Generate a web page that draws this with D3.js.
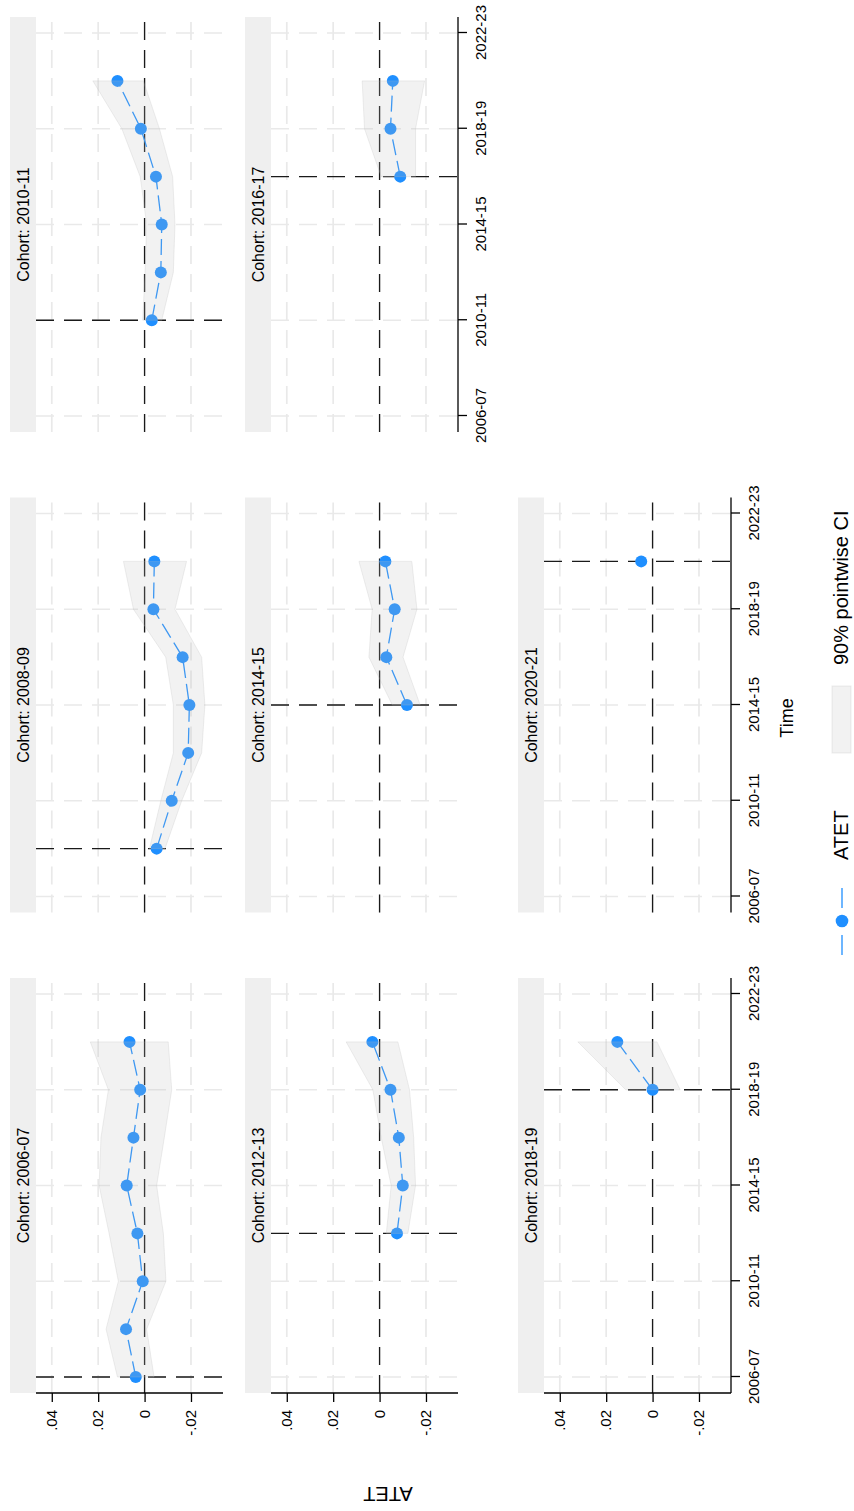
<!DOCTYPE html>
<html>
<head>
<meta charset="utf-8">
<script src="https://cdn.jsdelivr.net/npm/d3@7"></script>
<style>
  html, body { margin: 0; padding: 0; background: #fff; }
  svg { display: block; }
  text { font-family: "Liberation Sans", Arial, Helvetica, sans-serif; fill: #000; }
</style>
</head>
<body>
<svg id="chart" width="854" height="1511"></svg>
<script>
// ---- data -------------------------------------------------------------
const cohorts = ["2006-07", "2008-09", "2010-11", "2012-13", "2014-15", "2016-17", "2018-19", "2020-21"];
const waves = [2006, 2008, 2010, 2012, 2014, 2016, 2018, 2020];   // survey waves (start year)
const timeTicks = [2006, 2010, 2014, 2018, 2022];
const timeTickLabels = ["2006-07", "2010-11", "2014-15", "2018-19", "2022-23"];
const valueTicks = [0.04, 0.02, 0, -0.02];
const valueTickLabels = [".04", ".02", "0", "-.02"];

// ATET estimates and 90% pointwise CI bounds, one array per cohort,
// each running from the cohort's first treated wave to 2020-21
const atet2006 = [0.0038, 0.0080, 0.0008, 0.0031, 0.0077, 0.0048, 0.0019, 0.0065];
const ciHi2006 = [0.0117, 0.0166, 0.0113, 0.0153, 0.0196, 0.0188, 0.0156, 0.0234];
const ciLo2006 = [-0.0041, -0.0009, -0.0092, -0.0081, -0.0052, -0.0085, -0.0117, -0.0102];

const atet2008 = [-0.0052, -0.0117, -0.0188, -0.0193, -0.0164, -0.0038, -0.0042];
const ciHi2008 = [-0.0021, -0.0070, -0.0124, -0.0124, -0.0091, 0.0048, 0.0091];
const ciLo2008 = [-0.0088, -0.0160, -0.0246, -0.0260, -0.0246, -0.0131, -0.0181];

const atet2010 = [-0.0031, -0.0070, -0.0074, -0.0049, 0.0016, 0.0117];
const ciHi2010 = [0.0008, -0.0002, -0.0009, 0.0019, 0.0098, 0.0223];
const ciLo2010 = [-0.0074, -0.0124, -0.0131, -0.0121, -0.0064, 0.0005];

const atet2012 = [-0.0075, -0.0100, -0.0083, -0.0047, 0.0031];
const ciHi2012 = [-0.0029, -0.0050, -0.0007, 0.0029, 0.0144];
const ciLo2012 = [-0.0122, -0.0155, -0.0147, -0.0129, -0.0079];

const atet2014 = [-0.0118, -0.0029, -0.0065, -0.0025];
const ciHi2014 = [-0.0055, 0.0046, 0.0032, 0.0089];
const ciLo2014 = [-0.0175, -0.0101, -0.0161, -0.0139];

const atet2016 = [-0.0089, -0.0047, -0.0057];
const ciHi2016 = [-0.0007, 0.0065, 0.0075];
const ciLo2016 = [-0.0155, -0.0155, -0.0194];

const atet2018 = [0.0000, 0.0152];
const ciHi2018 = [0.0116, 0.0322];
const ciLo2018 = [-0.0119, -0.0019];

const atet2020 = [0.0049];
const ciHi2020 = [null];
const ciLo2020 = [null];

const atetSeries = [atet2006, atet2008, atet2010, atet2012, atet2014, atet2016, atet2018, atet2020];
const ciHiSeries = [ciHi2006, ciHi2008, ciHi2010, ciHi2012, ciHi2014, ciHi2016, ciHi2018, ciHi2020];
const ciLoSeries = [ciLo2006, ciLo2008, ciLo2010, ciLo2012, ciLo2014, ciLo2016, ciLo2018, ciLo2020];

// ---- layout (drawn in a landscape frame, turned a quarter-turn) --------
const W = 1511, H = 854;
const FONT = '"Liberation Sans", Arial, Helvetica, sans-serif';
const BLUE = "#1f8fff";
const GRID = "#e9e9e9";
const BAND = "#bdbdbd";
const TICK_FS = "15px";

const colLeft = [118, 598.5, 1079], panelW = 415, pad = 16;
const rowTop = [10, 245, 518], stripH = 26, plotH = 187;
const yDomain = [-0.0338, 0.0468];

const svg = d3.select("#chart");
const g = svg.append("g").attr("transform", `translate(0,${W}) rotate(-90)`);

cohorts.forEach((name, i) => {
  const r = Math.floor(i / 3), c = i % 3;
  const x0 = colLeft[c], x1 = x0 + panelW;
  const top = rowTop[r] + stripH, bottom = top + plotH;

  const x = d3.scaleLinear().domain([timeTicks[0], timeTicks[timeTicks.length - 1]]).range([x0 + pad, x1 - pad]);
  const y = d3.scaleLinear().domain(yDomain).range([bottom, top]);

  const p = g.append("g").attr("class", "panel");

  // strip with cohort title
  p.append("rect")
    .attr("x", x0).attr("y", rowTop[r]).attr("width", panelW).attr("height", stripH)
    .attr("fill", "#efefef");
  p.append("text")
    .attr("x", (x0 + x1) / 2).attr("y", rowTop[r] + stripH / 2).attr("dy", "0.36em")
    .attr("text-anchor", "middle").style("font-size", "16px")
    .text(`Cohort: ${name}`);

  // dashed grid
  p.append("g").selectAll("line").data(timeTicks).join("line")
    .attr("x1", d => x(d)).attr("x2", d => x(d)).attr("y1", top).attr("y2", bottom)
    .attr("stroke", GRID).attr("stroke-width", 1.7).attr("stroke-dasharray", "18,10");
  p.append("g").selectAll("line").data(valueTicks).join("line")
    .attr("x1", x0).attr("x2", x1).attr("y1", d => y(d)).attr("y2", d => y(d))
    .attr("stroke", GRID).attr("stroke-width", 1.7).attr("stroke-dasharray", "18,10");

  // reference lines: zero effect and the cohort's treatment wave
  p.append("line")
    .attr("x1", x0).attr("x2", x1).attr("y1", y(0)).attr("y2", y(0))
    .attr("stroke", "#1a1a1a").attr("stroke-width", 1.3).attr("stroke-dasharray", "18,10");
  p.append("line")
    .attr("x1", x(waves[i])).attr("x2", x(waves[i])).attr("y1", top).attr("y2", bottom)
    .attr("stroke", "#1a1a1a").attr("stroke-width", 1.3).attr("stroke-dasharray", "18,10");

  // series
  const pts = atetSeries[i].map((v, k) => ({
    t: waves[i + k], v, lo: ciLoSeries[i][k], hi: ciHiSeries[i][k]
  }));

  p.append("path")
    .datum(pts)
    .attr("fill", "none").attr("stroke", BLUE).attr("stroke-width", 1.3)
    .attr("stroke-dasharray", "16,6")
    .attr("d", d3.line().x(d => x(d.t)).y(d => y(d.v)));

  p.append("g").selectAll("circle").data(pts).join("circle")
    .attr("cx", d => x(d.t)).attr("cy", d => y(d.v)).attr("r", 6)
    .attr("fill", BLUE);

  const bandPts = pts.filter(d => d.lo != null && d.hi != null);
  if (bandPts.length > 1) {
    p.append("path")
      .datum(bandPts)
      .attr("fill", BAND).attr("fill-opacity", 0.2)
      .attr("stroke", BAND).attr("stroke-opacity", 0.25).attr("stroke-width", 1)
      .attr("d", d3.area().x(d => x(d.t)).y0(d => y(d.lo)).y1(d => y(d.hi)));
  }

  // value axis on the first panel of each row
  if (c === 0) {
    const ay = p.append("g")
      .attr("transform", `translate(${x0},0)`)
      .call(d3.axisLeft(y).tickValues(valueTicks)
        .tickFormat((d, k) => valueTickLabels[k])
        .tickSize(9).tickSizeOuter(0).tickPadding(8));
    ay.attr("font-family", FONT);
    ay.select(".domain").remove();
    ay.append("line").attr("x1", 0).attr("x2", 0).attr("y1", top).attr("y2", bottom)
      .attr("stroke", "#000").attr("stroke-width", 1.3);
    ay.selectAll(".tick line").attr("stroke", "#000").attr("stroke-width", 1.3);
    ay.selectAll(".tick text").attr("fill", "#000").style("font-size", TICK_FS);
  }

  // time axis on panels with nothing beneath them
  if (i + 3 >= cohorts.length) {
    const ax = p.append("g")
      .attr("transform", `translate(0,${bottom})`)
      .call(d3.axisBottom(x).tickValues(timeTicks)
        .tickFormat((d, k) => timeTickLabels[k])
        .tickSize(9).tickSizeOuter(0).tickPadding(8));
    ax.attr("font-family", FONT);
    ax.select(".domain").remove();
    ax.append("line").attr("x1", x0).attr("x2", x1).attr("y1", 0).attr("y2", 0)
      .attr("stroke", "#000").attr("stroke-width", 1.3);
    ax.selectAll(".tick line").attr("stroke", "#000").attr("stroke-width", 1.3);
    ax.selectAll(".tick text").attr("fill", "#000").style("font-size", TICK_FS);
  }
});

// axis titles
g.append("text")
  .attr("x", 793).attr("y", 793).attr("text-anchor", "middle")
  .style("font-size", "18px").text("Time");
g.append("text")
  .attr("transform", "translate(24,388) rotate(-90)").attr("text-anchor", "middle")
  .style("font-size", "20px").text("ATET");

// legend
const leg = g.append("g");
const legY = 842;
leg.append("line").attr("x1", 556).attr("x2", 576).attr("y1", legY).attr("y2", legY)
  .attr("stroke", BLUE).attr("stroke-width", 1.3);
leg.append("line").attr("x1", 603).attr("x2", 623).attr("y1", legY).attr("y2", legY)
  .attr("stroke", BLUE).attr("stroke-width", 1.3);
leg.append("circle").attr("cx", 590).attr("cy", legY).attr("r", 6.3).attr("fill", BLUE);
leg.append("text").attr("x", 651).attr("y", 848).style("font-size", "20px").text("ATET");
leg.append("rect").attr("x", 758).attr("y", 832).attr("width", 67).attr("height", 19)
  .attr("fill", BAND).attr("fill-opacity", 0.2)
  .attr("stroke", BAND).attr("stroke-opacity", 0.25).attr("stroke-width", 1);
leg.append("text").attr("x", 846).attr("y", 848).style("font-size", "20px").text("90% pointwise CI");
</script>
</body>
</html>
